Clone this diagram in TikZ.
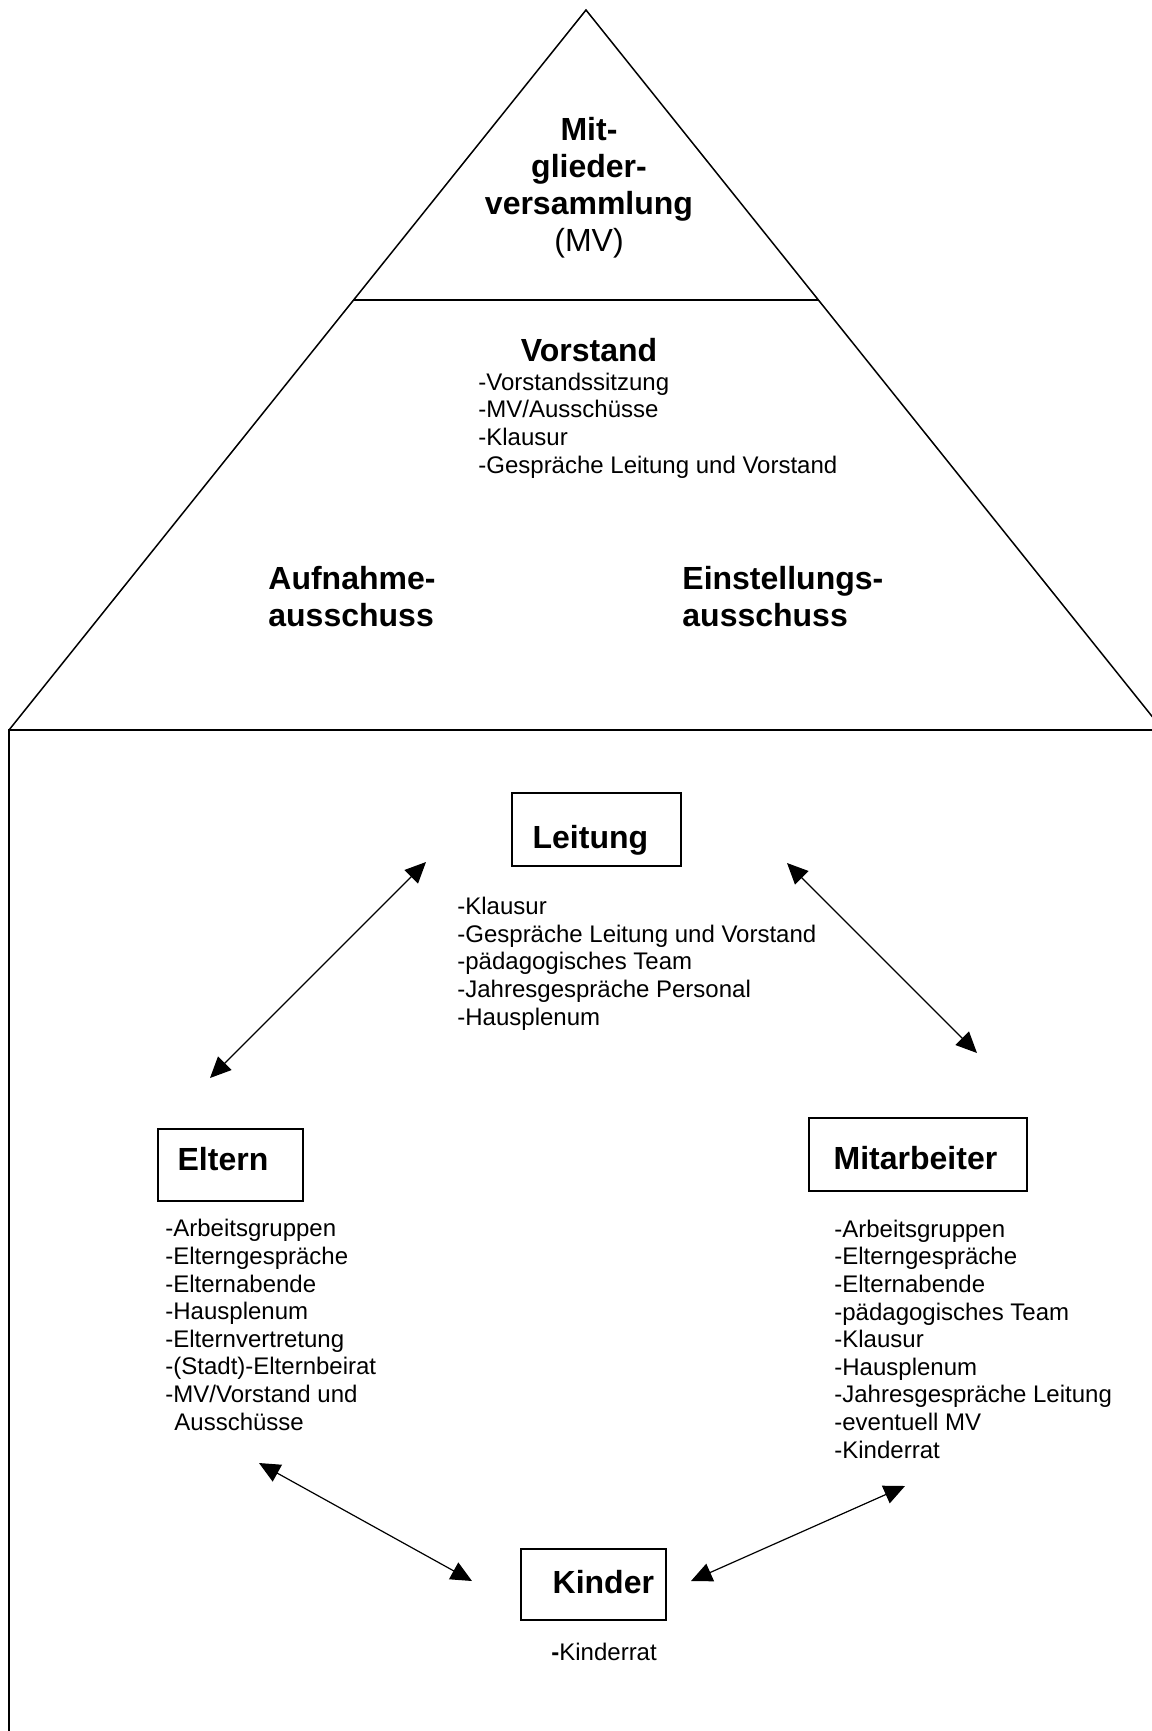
\documentclass[tikz,border=0pt]{standalone}
\usepackage{fontspec}
\setmainfont{Liberation Sans}
\usetikzlibrary{positioning, arrows.meta, calc}

\tikzset{
  frame/.style={draw=black, line width=0.75pt},
  orgbox/.style={draw=black, line width=0.75pt, inner sep=0pt},
  headline/.style={font=\fontsize{16}{18.4}\selectfont\bfseries, inner sep=0pt},
  boxlabel/.style={headline, anchor=base west},
  tasklist/.style={font=\fontsize{12}{13.8}\selectfont, align=left, anchor=base west, inner sep=0pt},
  link/.style={{Triangle[length=10.5pt, width=9.5pt]}-{Triangle[length=10.5pt, width=9.5pt]}, line width=0.6pt}
}

\begin{document}
\begin{tikzpicture}[x=0.5pt, y=-0.5pt]
  \useasboundingbox (0,0) rectangle (1152,1731);
  \clip (0,0) rectangle (1152,1731);

  % Pyramide und Haus
  \coordinate (apex) at (586,10);
  \coordinate (baseL) at (9,730);
  \coordinate (baseR) at (1163,730);
  \draw[frame] (baseL) -- (apex) -- (baseR);
  \draw[frame] ($(apex)!0.403!(baseL)$) -- ($(apex)!0.403!(baseR)$);
  \draw[frame] (baseL) rectangle (1163,1760);

  % base = Grundlinie der letzten Zeile
  \node[headline, align=center, anchor=base] (mv) at (589,251)
    {Mit-\\glieder-\\versammlung\\\textmd{(MV)}};
  \node[headline, anchor=base] (vorstand) at (589,361) {Vorstand};
  \node[tasklist] (vorstandlist) at (478,473)
    {-Vorstandssitzung\\-MV/Ausschüsse\\-Klausur\\-Gespräche Leitung und Vorstand};
  \node[headline, align=left, anchor=base west] (aufnahme) at (268,626) {Aufnahme-\\ausschuss};
  \node[headline, align=left, anchor=base west] (einstellung) at (682,626) {Einstellungs-\\ausschuss};

  % Boxen
  \node[orgbox, minimum width=84.5pt, minimum height=36.5pt] (leitung) at (596.5,829.5) {};
  \node[boxlabel] (leitungtxt) at ([shift={(21,56)}]leitung.north west) {Leitung};
  \node[tasklist] (leitunglist) at (457,1025)
    {-Klausur\\-Gespräche Leitung und Vorstand\\-pädagogisches Team\\-Jahresgespräche Personal\\-Hausplenum};

  \node[orgbox, minimum width=72.5pt, minimum height=36pt] (eltern) at (230.5,1165) {};
  \node[boxlabel] (elterntxt) at ([shift={(20,42)}]eltern.north west) {Eltern};
  \node[tasklist] (elternlist) at (165,1430)
    {-Arbeitsgruppen\\-Elterngespräche\\-Elternabende\\-Hausplenum\\-Elternvertretung\\-(Stadt)-Elternbeirat\\-MV/Vorstand und\\\hspace{4.5pt}Ausschüsse};

  \node[orgbox, minimum width=109pt, minimum height=36.5pt] (mitarbeiter) at (918,1154.5) {};
  \node[boxlabel] (mitarbeitertxt) at ([shift={(25,52)}]mitarbeiter.north west) {Mitarbeiter};
  \node[tasklist] (mitarbeiterlist) at (834,1458)
    {-Arbeitsgruppen\\-Elterngespräche\\-Elternabende\\-pädagogisches Team\\-Klausur\\-Hausplenum\\-Jahresgespräche Leitung\\-eventuell MV\\-Kinderrat};

  \node[orgbox, minimum width=72.5pt, minimum height=35.5pt] (kinder) at (593.5,1584.5) {};
  \node[boxlabel] (kindertxt) at ([shift={(32,45)}]kinder.north west) {Kinder};
  \node[tasklist] (kinderlist) at (551,1660) {\textbf{-}Kinderrat};

  % Pfeile
  \coordinate (tipLE) at (426,862);
  \coordinate (tipEL) at (210,1078);
  \coordinate (tipLM) at (787,863);
  \coordinate (tipML) at (977,1053);
  \coordinate (tipEK) at (259,1463);
  \coordinate (tipKE) at (472,1581);
  \coordinate (tipKM) at (691,1581);
  \coordinate (tipMK) at (905,1486);
  \draw[link] (tipLE) -- (tipEL);
  \draw[link] (tipLM) -- (tipML);
  \draw[link] (tipEK) -- (tipKE);
  \draw[link] (tipKM) -- (tipMK);
\end{tikzpicture}
\end{document}
